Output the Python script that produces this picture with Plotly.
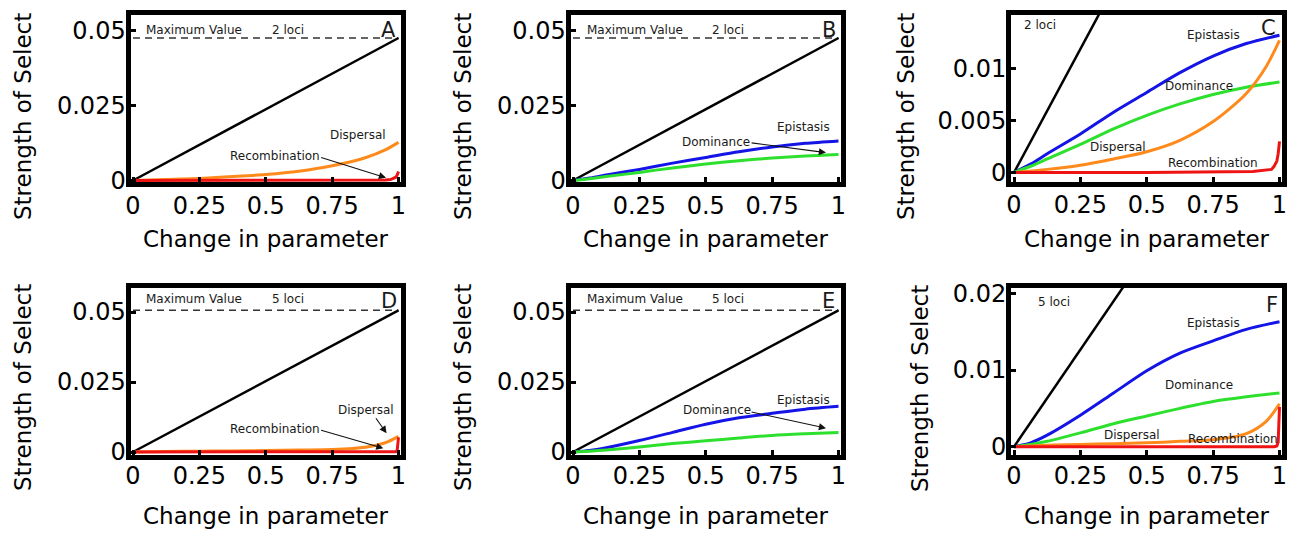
import plotly.graph_objects as go

W, H = 1297, 533
OFF = 8  # the page body adds an 8px offset; compensate so the picture lines up

# ---------------- data ----------------
x_lin = [0, 1]
max_line_2 = [0, 0.0475]       # black line, 2 loci
max_line_5 = [0, 0.0506]       # black line, 5 loci
max_2 = [0.0475, 0.0475]       # dashed maximum value, 2 loci
max_5 = [0.0506, 0.0506]       # dashed maximum value, 5 loci

x_epi = [0, 0.0625, 0.125, 0.25, 0.375, 0.5, 0.625, 0.75, 0.875, 1]
epi_2 = [0, 0.0008, 0.0018, 0.0037, 0.0058, 0.0077, 0.0096, 0.0112, 0.0124, 0.0132]
epi_5 = [0, 0.0005, 0.0015, 0.0041, 0.0070, 0.0099, 0.0122, 0.0138, 0.0153, 0.0163]

x_dom = [0, 0.0625, 0.125, 0.25, 0.375, 0.5, 0.625, 0.75, 0.875, 1]
dom_2 = [0, 0.0006, 0.0013, 0.0027, 0.0042, 0.0055, 0.0066, 0.0075, 0.0082, 0.0087]
dom_5 = [0, 0.0003, 0.0007, 0.0018, 0.0030, 0.0040, 0.0050, 0.0059, 0.0065, 0.0070]

x_disp = [0, 0.125, 0.25, 0.375, 0.5, 0.625, 0.75, 0.875, 0.95, 1]
disp_2 = [0, 0.0003, 0.0007, 0.0013, 0.0020, 0.0031, 0.0049, 0.0076, 0.0102, 0.0127]
disp_5 = [0, 0.0002, 0.0003, 0.0004, 0.0005, 0.0007, 0.0009, 0.0017, 0.0033, 0.0056]

x_rec = [0, 0.5, 0.9, 0.95, 0.97, 0.98, 0.99, 0.995, 1]
rec_2 = [0, 0, 0.0001, 0.0002, 0.0003, 0.0006, 0.0011, 0.0018, 0.0030]
rec_5 = [0, 0, 0, 0, 0, 0, 0.0001, 0.0006, 0.0052]

x_ticks = [0, 0.25, 0.5, 0.75, 1]
x_ticktext = ["0", "0.25", "0.5", "0.75", "1"]
y_ticks_main = [0, 0.025, 0.05]
y_ticktext_main = ["0", "0.025", "0.05"]
y_ticks_c = [0, 0.005, 0.01]
y_ticktext_c = ["0", "0.005", "0.01"]
y_ticks_f = [0, 0.01, 0.02]
y_ticktext_f = ["0", "0.01", "0.02"]

BLUE = "#1414e6"
GREEN = "#2ee02e"
ORANGE = "#ff8a1c"
RED = "#ee1414"
FONT = "DejaVu Sans"

def px_x(p):
    return (p - OFF) / W

def px_y(p):
    return 1 - (p - OFF) / H

# column pixel geometry: (left, right, px of x=0, px of x=1)
cols = [(130.5, 400.5, 133, 398.5), (570.5, 840.5, 573, 838.5), (1011, 1282, 1014, 1279.5)]

panels = [
    dict(letter="A", col=0, T=15, B=182, y0=180.5, k=3000, yt=y_ticks_main, ytt=y_ticktext_main, loci=2),
    dict(letter="B", col=1, T=15, B=182, y0=180.5, k=3000, yt=y_ticks_main, ytt=y_ticktext_main, loci=2),
    dict(letter="C", col=2, T=15, B=181.5, y0=172.5, k=10400, yt=y_ticks_c, ytt=y_ticktext_c, loci=2),
    dict(letter="D", col=0, T=287.5, B=454.5, y0=452, k=2800, yt=y_ticks_main, ytt=y_ticktext_main, loci=5),
    dict(letter="E", col=1, T=287.5, B=454.5, y0=452, k=2800, yt=y_ticks_main, ytt=y_ticktext_main, loci=5),
    dict(letter="F", col=2, T=287.5, B=454.5, y0=446.7, k=7670, yt=y_ticks_f, ytt=y_ticktext_f, loci=5),
]

fig = go.Figure()
layout = dict(
    template="none",
    width=W, height=H, margin=dict(l=0, r=0, t=0, b=0, pad=0, autoexpand=False),
    paper_bgcolor="white", plot_bgcolor="white", showlegend=False,
    font=dict(family=FONT, color="black"),
)
annotations = []

def line(xs, ys, color, width, xa, ya, dash=None, shape="spline"):
    fig.add_trace(go.Scatter(x=xs, y=ys, mode="lines", xaxis=xa, yaxis=ya,
                             line=dict(color=color, width=width, dash=dash, shape=shape, smoothing=0.8),
                             hoverinfo="skip"))

def label(text, x, y, xa, ya, size=12, xanchor="center"):
    annotations.append(dict(text=text, x=x, y=y, xref=xa, yref=ya, showarrow=False,
                            xanchor=xanchor, yanchor="middle",
                            font=dict(family=FONT, size=size, color="#1a1a1a")))

def arrow(x, y, ax, ay, xa, ya):
    annotations.append(dict(text="", x=x, y=y, ax=ax, ay=ay, xref=xa, yref=ya,
                            axref=xa, ayref=ya, showarrow=True, arrowhead=2,
                            arrowsize=1.3, arrowwidth=1.1, arrowcolor="#111",
                            standoff=0, startstandoff=0))

for i, p in enumerate(panels, start=1):
    L, R, x0, x1 = cols[p["col"]]
    sx = x1 - x0
    xr = [(L - x0) / sx, (R - x0) / sx]
    yr = [(p["y0"] - p["B"]) / p["k"], (p["y0"] - p["T"]) / p["k"]]
    suffix = "" if i == 1 else str(i)
    xa, ya = "x" + suffix, "y" + suffix
    layout["xaxis" + suffix] = dict(
        domain=[px_x(L), px_x(R)], anchor=ya, range=xr, automargin=False,
        showline=True, linewidth=5, linecolor="black", mirror=True,
        ticks="inside", ticklen=5, tickwidth=3, tickcolor="black",
        tickvals=x_ticks, ticktext=x_ticktext, showgrid=False, zeroline=False,
        ticklabelstandoff=-4 if p["loci"] == 5 else -2,
        tickfont=dict(family=FONT, size=24, color="black"), fixedrange=True,
    )
    layout["yaxis" + suffix] = dict(
        domain=[px_y(p["B"]), px_y(p["T"])], anchor=xa, range=yr, automargin=False,
        showline=True, linewidth=5, linecolor="black", mirror=True,
        ticks="inside", ticklen=5, tickwidth=3, tickcolor="black",
        tickvals=p["yt"], ticktext=p["ytt"], showgrid=False, zeroline=False,
        ticklabelstandoff=-5,
        tickfont=dict(family=FONT, size=24, color="black"), fixedrange=True,
    )

    two = p["loci"] == 2
    letter = p["letter"]
    loci_txt = "2 loci" if two else "5 loci"
    if letter in ("A", "B", "D", "E"):
        line(x_lin, max_2 if two else max_5, "#333", 1.5, xa, ya, dash="7px,5px", shape="linear")
    line(x_lin, max_line_2 if two else max_line_5, "black", 2.5, xa, ya, shape="linear")
    if letter in ("B", "C", "E", "F"):
        line(x_epi, epi_2 if two else epi_5, BLUE, 3, xa, ya)
        line(x_dom, dom_2 if two else dom_5, GREEN, 3, xa, ya)
    if letter in ("A", "C", "D", "F"):
        line(x_disp, disp_2 if two else disp_5, ORANGE, 3, xa, ya)
        line(x_rec, rec_2 if two else rec_5, RED, 3, xa, ya, shape="linear")

    # text annotations
    if letter in ("A", "B", "D", "E"):
        ytxt = 0.0502 if two else 0.0546
        xmv = 0.041 if letter in ("A", "D") else 0.045
        label("Maximum Value", xmv, ytxt, xa, ya, xanchor="left")
        label(loci_txt, 0.516, ytxt, xa, ya, xanchor="left")
        label(letter, 0.964, ytxt if two else 0.0541, xa, ya, size=21)
    if letter == "A":
        label("Dispersal", 0.846, 0.01517, xa, ya)
        label("Recombination", 0.535, 0.00817, xa, ya)
        arrow(0.953, 0.0009, 0.703, 0.0078, xa, ya)
    if letter == "B":
        label("Epistasis", 0.868, 0.01793, xa, ya)
        label("Dominance", 0.540, 0.01293, xa, ya)
        arrow(0.953, 0.0093, 0.667, 0.0126, xa, ya)
    if letter == "D":
        label("Dispersal", 0.877, 0.0150, xa, ya)
        arrow(0.955, 0.0067, 0.911, 0.0126, xa, ya)
        label("Recombination", 0.535, 0.00821, xa, ya)
        arrow(0.943, 0.0013, 0.703, 0.0079, xa, ya)
    if letter == "E":
        label("Epistasis", 0.870, 0.01857, xa, ya)
        label("Dominance", 0.541, 0.0150, xa, ya)
        arrow(0.953, 0.0085, 0.667, 0.0144, xa, ya)
    if letter == "C":
        label("2 loci", 0.030, 0.01418, xa, ya, xanchor="left")
        label("C", 0.96, 0.0139, xa, ya, size=21)
        label("Epistasis", 0.751, 0.01322, xa, ya)
        label("Dominance", 0.697, 0.00832, xa, ya)
        label("Dispersal", 0.393, 0.00248, xa, ya)
        label("Recombination", 0.750, 0.00094, xa, ya)
    if letter == "F":
        label("5 loci", 0.083, 0.0189, xa, ya, xanchor="left")
        label("F", 0.972, 0.01847, xa, ya, size=21)
        label("Epistasis", 0.751, 0.01609, xa, ya)
        label("Dominance", 0.697, 0.00804, xa, ya)
        label("Dispersal", 0.446, 0.00153, xa, ya)
        label("Recombination", 0.823, 0.00096, xa, ya)

# axis titles as paper annotations
ytitle_pos = [(23, 117), (463, 117), (906, 117), (23, 388), (463, 388), (920, 388)]
for (px, py) in ytitle_pos:
    annotations.append(dict(text="Strength of Select", x=px_x(px), y=px_y(py), xref="paper", yref="paper",
                            showarrow=False, textangle=-90, xanchor="center", yanchor="middle",
                            font=dict(family=FONT, size=23, color="black")))
xtitle_pos = [(265.5, 239), (705.5, 239), (1146.5, 239), (265.5, 516), (705.5, 516), (1146.5, 516)]
for (px, py) in xtitle_pos:
    annotations.append(dict(text="Change in parameter", x=px_x(px), y=px_y(py), xref="paper", yref="paper",
                            showarrow=False, xanchor="center", yanchor="middle",
                            font=dict(family=FONT, size=23, color="black")))

layout["annotations"] = annotations
fig.update_layout(**layout)
fig.write_html("out.html")
